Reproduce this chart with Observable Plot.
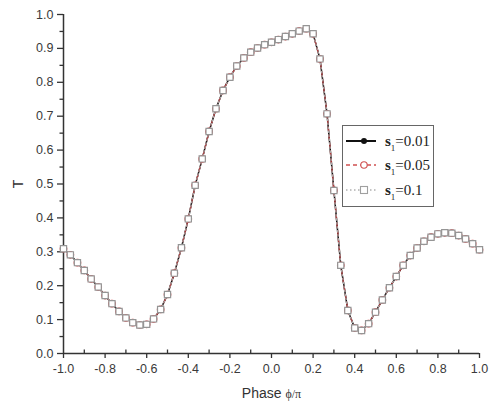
<!DOCTYPE html>
<html><head><meta charset="utf-8">
<script src="https://cdn.jsdelivr.net/npm/d3@7"></script>
<script src="https://cdn.jsdelivr.net/npm/@observablehq/plot@0.6"></script>
<style>
body{margin:0;background:#fff;}
#wrap{position:relative;width:489px;height:406px;}
#legend{position:absolute;left:342px;top:125px;width:90px;height:80px;border:1.5px solid #666;background:#fff;font-family:"Liberation Serif","Times New Roman",serif;color:#222;}
.row{position:absolute;left:0;height:20px;width:90px;}
.row svg{position:absolute;left:0;top:0;}
.row span{position:absolute;left:42px;top:1px;font-size:15px;line-height:18px;white-space:nowrap;}
.row b{font-weight:bold;}
.row sub{font-size:9px;vertical-align:-5px;line-height:0;}
</style>
</head><body>
<div id="wrap"></div>
<script>
// Phase φ/π sample positions
const phase = [-1.0,-0.967,-0.933,-0.9,-0.867,-0.833,-0.8,-0.767,-0.733,-0.7,
  -0.667,-0.633,-0.6,-0.567,-0.533,-0.5,-0.467,-0.433,-0.4,-0.367,
  -0.333,-0.3,-0.267,-0.233,-0.2,-0.167,-0.133,-0.1,-0.067,-0.033,
  0.0,0.033,0.067,0.1,0.133,0.167,0.2,0.233,0.267,0.3,
  0.333,0.367,0.4,0.433,0.467,0.5,0.533,0.567,0.6,0.633,
  0.667,0.7,0.733,0.767,0.8,0.833,0.867,0.9,0.933,0.967,1.0];
// Transmission T for each s1 (curves overlap in the figure)
const tS001 = [0.309,0.291,0.268,0.245,0.220,0.196,0.171,0.147,0.124,0.105,
  0.091,0.084,0.086,0.102,0.130,0.174,0.237,0.312,0.397,0.496,
  0.574,0.655,0.722,0.776,0.815,0.848,0.872,0.889,0.901,0.911,
  0.918,0.926,0.935,0.943,0.951,0.958,0.943,0.869,0.707,0.481,
  0.260,0.127,0.075,0.068,0.088,0.122,0.158,0.194,0.227,0.260,
  0.289,0.311,0.331,0.343,0.353,0.356,0.355,0.348,0.338,0.324,0.306];
const tS005 = [0.309,0.291,0.268,0.245,0.220,0.196,0.171,0.147,0.124,0.105,
  0.091,0.084,0.086,0.102,0.130,0.174,0.237,0.312,0.397,0.496,
  0.574,0.655,0.722,0.776,0.815,0.848,0.872,0.889,0.901,0.911,
  0.918,0.926,0.935,0.943,0.951,0.958,0.943,0.869,0.707,0.481,
  0.260,0.127,0.075,0.068,0.088,0.122,0.158,0.194,0.227,0.260,
  0.289,0.311,0.331,0.343,0.353,0.356,0.355,0.348,0.338,0.324,0.306];
const tS01 = [0.309,0.291,0.268,0.245,0.220,0.196,0.171,0.147,0.124,0.105,
  0.091,0.084,0.086,0.102,0.130,0.174,0.237,0.312,0.397,0.496,
  0.574,0.655,0.722,0.776,0.815,0.848,0.872,0.889,0.901,0.911,
  0.918,0.926,0.935,0.943,0.951,0.958,0.943,0.869,0.707,0.481,
  0.260,0.127,0.075,0.068,0.088,0.122,0.158,0.194,0.227,0.260,
  0.289,0.311,0.331,0.343,0.353,0.356,0.355,0.348,0.338,0.324,0.306];
const xTicks = [-1.0,-0.8,-0.6,-0.4,-0.2,0.0,0.2,0.4,0.6,0.8,1.0];
const xMinor = [-0.9,-0.7,-0.5,-0.3,-0.1,0.1,0.3,0.5,0.7,0.9];
const yTicks = [0.0,0.1,0.2,0.3,0.4,0.5,0.6,0.7,0.8,0.9,1.0];
const yMinor = [0.05,0.15,0.25,0.35,0.45,0.55,0.65,0.75,0.85,0.95];
const legendLabels = ["0.01","0.05","0.1"];

const rows = (ys) => phase.map((p,i)=>({x:p,y:ys[i]}));
const d1 = rows(tS001), d2 = rows(tS005), d3s = rows(tS01);
const fmt = d => d.toFixed(1);
const axisColor = "#333";

const chart = Plot.plot({
  width: 489, height: 406,
  marginLeft: 63, marginRight: 10, marginTop: 14, marginBottom: 53,
  style: {fontFamily: "'Liberation Sans', Arial, sans-serif", fontSize: "12.5px", color: "#3a3a3a", background: "#fff"},
  x: {domain: [-1, 1]},
  y: {domain: [0, 1]},
  marks: [
    Plot.axisX({ticks: xTicks, tickFormat: fmt, tickSize: 5, tickPadding: 6, stroke: axisColor, strokeWidth: 1.3,
      label: "Phase ϕ/π", labelAnchor: "center", labelOffset: 44, labelArrow: "none"}),
    Plot.axisX({ticks: xMinor, tickFormat: () => "", tickSize: -3.5, stroke: axisColor, strokeWidth: 1.3, label: null}),
    Plot.axisY({ticks: yTicks, tickFormat: fmt, tickSize: 6, tickPadding: 4, stroke: axisColor, strokeWidth: 1.3,
      label: "T", labelAnchor: "center", labelOffset: 50, labelArrow: "none"}),
    Plot.axisY({ticks: yMinor, tickFormat: () => "", tickSize: 3.5, stroke: axisColor, strokeWidth: 1.3, label: null}),
    Plot.ruleX([-1], {stroke: axisColor, strokeWidth: 1.5}),
    Plot.ruleY([0], {stroke: axisColor, strokeWidth: 1.5}),
    Plot.line(d1, {x: "x", y: "y", stroke: "#111", strokeWidth: 1.5}),
    Plot.line(d2, {x: "x", y: "y", stroke: "#b8383a", strokeWidth: 1.3, strokeDasharray: "5,3"}),
    Plot.line(d3s, {x: "x", y: "y", stroke: "#aaa", strokeWidth: 1.2, strokeDasharray: "1.5,2.5"}),
    Plot.dot(d1, {x: "x", y: "y", r: 2.8, fill: "#111", stroke: "none"}),
    Plot.dot(d2, {x: "x", y: "y", r: 3.3, fill: "#fff", stroke: "#c8383a", strokeWidth: 1.1}),
    Plot.dot(d3s, {x: "x", y: "y", symbol: "square", r: 3.5, fill: "#fff", stroke: "#959595", strokeWidth: 1.2})
  ]
});
const wrap = document.getElementById("wrap");
wrap.appendChild(chart);

// style axis labels
d3.select(chart).selectAll("text").each(function(){
  const t = d3.select(this);
  if (t.text() === "Phase ϕ/π") {
    t.text(null).style("font-size","14px").attr("fill","#333");
    t.append("tspan").text("Phase ");
    t.append("tspan").text("ϕ/π").style("font-family","'Liberation Serif','Times New Roman',serif").style("font-size","12px");
  } else if (t.text() === "T") {
    t.style("font-size","14px").attr("fill","#333");
  }
});

// legend
const legend = document.createElement("div");
legend.id = "legend";
const styles = [
  {stroke:"#111", dash:null, w:2, mk:"dot"},
  {stroke:"#d05050", dash:"4,3", w:1.5, mk:"circle"},
  {stroke:"#b0b0b0", dash:"1.5,2.5", w:1.3, mk:"square"}
];
const tops = [5, 29, 54];
legendLabels.forEach((lab, i) => {
  const s = styles[i];
  const row = document.createElement("div");
  row.className = "row"; row.style.top = tops[i] + "px";
  let mk;
  if (s.mk === "dot") mk = `<circle cx="21" cy="10" r="3" fill="#111"/>`;
  else if (s.mk === "circle") mk = `<circle cx="21" cy="10" r="3.2" fill="#fff" stroke="#d05050" stroke-width="1.1"/>`;
  else mk = `<rect x="17.5" y="6.5" width="7" height="7" fill="#fff" stroke="#a0a0a0" stroke-width="1.1"/>`;
  row.innerHTML = `<svg width="40" height="20"><line x1="3" y1="10" x2="33" y2="10" stroke="${s.stroke}" stroke-width="${s.w}" ${s.dash?`stroke-dasharray="${s.dash}"`:""}/>${mk}</svg><span><b>s</b><sub>1</sub>=${lab}</span>`;
  legend.appendChild(row);
});
wrap.appendChild(legend);
</script>
</body></html>
